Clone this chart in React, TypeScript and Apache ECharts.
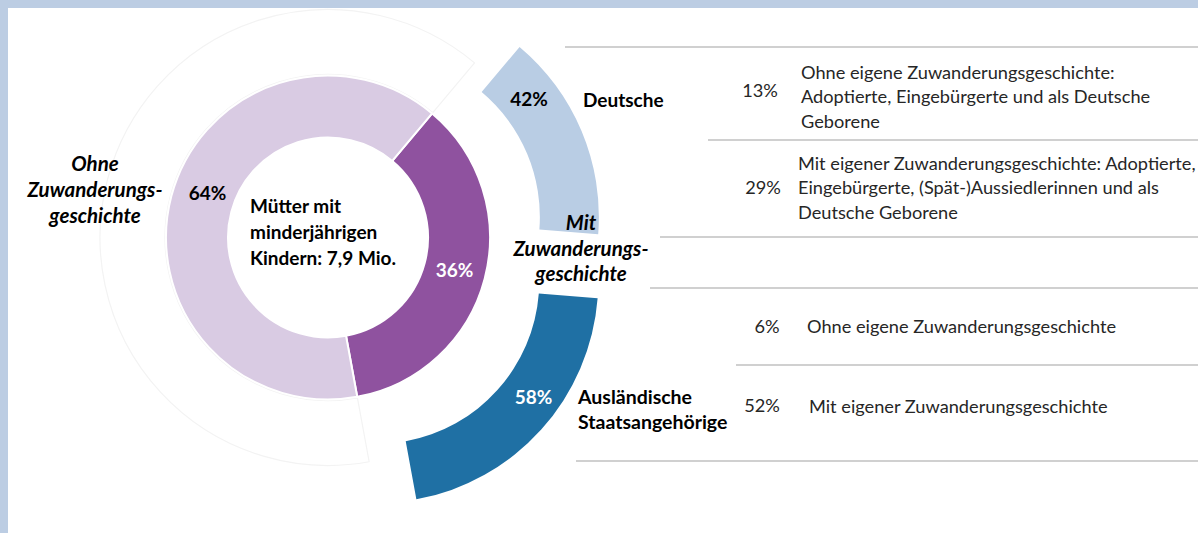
import React, { useEffect, useRef } from "react";
import * as echarts from "echarts";

// ---- data ----
const innerCategories = ["Mit Zuwanderungsgeschichte", "Ohne Zuwanderungsgeschichte"];
const innerValues = [36, 64]; // % of mothers with minor children
const outerCategories = ["Deutsche", "Ausländische Staatsangehörige"];
const outerValues = [42, 58]; // % within "Mit Zuwanderungsgeschichte"
const detailValues = [13, 29, 6, 52];
const detailLabels = [
  "Ohne eigene Zuwanderungsgeschichte:\nAdoptierte, Eingebürgerte und als Deutsche\nGeborene",
  "Mit eigener Zuwanderungsgeschichte: Adoptierte,\nEingebürgerte, (Spät-)Aussiedlerinnen und als\nDeutsche Geborene",
  "Ohne eigene Zuwanderungsgeschichte",
  "Mit eigener Zuwanderungsgeschichte",
];
const centerText = "Mütter mit\nminderjährigen\nKindern: 7,9 Mio.";
const leftGroupLabel = "Ohne\nZuwanderungs-\ngeschichte";
const rightGroupLabel = "Mit\nZuwanderungs-\ngeschichte";

// ---- style / layout ----
const FONT = "Lato, 'Noto Sans', sans-serif";
const C = [328, 237.5];
const START = 50;
const COL_DARK_PURPLE = "#8f529f";
const COL_LIGHT_PURPLE = "#d9cbe3";
const COL_LIGHT_BLUE = "#b9cde4";
const COL_DARK_BLUE = "#1f70a4";
const TRANSPARENT = "rgba(0,0,0,0)";
const LINE_COL = "#c0c0c0";
const TEXT_COL = "#262626";
const BOLD = 19;
const ITALIC = 20.5;
const TABLE = 18.2;

const detailPct = [
  { x: 760, y: 90 },
  { x: 763, y: 187 },
  { x: 767, y: 326 },
  { x: 762, y: 405 },
];
const detailText = [
  { x: 801, y: 96 },
  { x: 798, y: 187 },
  { x: 807, y: 326 },
  { x: 809, y: 406 },
];
const tableLines = [
  { x1: 565, y: 47 },
  { x1: 708, y: 140 },
  { x1: 660, y: 237 },
  { x1: 650, y: 288 },
  { x1: 736, y: 365 },
  { x1: 576, y: 461 },
];

export default function App() {
  const ref = useRef<HTMLDivElement>(null);
  useEffect(() => {
    if (!ref.current) return;
    const chart = echarts.init(ref.current, undefined, { renderer: "svg" });

    const mit = innerValues[0];
    const ohne = innerValues[1];
    const deutsch = (mit * outerValues[0]) / 100;
    const ausl = (mit * outerValues[1]) / 100;

    const baseLabel = {
      show: true,
      position: "inside",
      fontFamily: FONT,
      fontWeight: "bold",
      fontSize: BOLD,
    };
    const hidden = { show: false };

    const graphics: any[] = [
      { type: "rect", z: 100, shape: { x: 0, y: 0, width: 1198, height: 8 }, style: { fill: "#bccde3" }, silent: true },
      { type: "rect", z: 100, shape: { x: 0, y: 0, width: 8, height: 533 }, style: { fill: "#bccde3" }, silent: true },
      {
        type: "text", z: 100, x: 250, y: 231,
        style: { text: centerText, font: `bold ${BOLD}px ${FONT}`, fill: "#000", textAlign: "left", textVerticalAlign: "middle", lineHeight: 26 },
      },
      {
        type: "text", z: 100, x: 95, y: 189,
        style: { text: leftGroupLabel, font: `italic bold ${ITALIC}px ${FONT}`, fill: "#000", textAlign: "center", textVerticalAlign: "middle", lineHeight: 26 },
      },
      {
        type: "text", z: 100, x: 581, y: 247.5,
        style: { text: rightGroupLabel, font: `italic bold ${ITALIC}px ${FONT}`, fill: "#000", textAlign: "center", textVerticalAlign: "middle", lineHeight: 25.5 },
      },
      {
        type: "text", z: 100, x: 583, y: 99,
        style: { text: outerCategories[0], font: `bold ${BOLD}px ${FONT}`, fill: "#000", textAlign: "left", textVerticalAlign: "middle" },
      },
      {
        type: "text", z: 100, x: 578, y: 408.5,
        style: { text: "Ausländische\nStaatsangehörige", font: `bold 19.5px ${FONT}`, fill: "#000", textAlign: "left", textVerticalAlign: "middle", lineHeight: 25 },
      },
    ];
    tableLines.forEach((l) => {
      graphics.push({
        type: "line", z: 100,
        shape: { x1: l.x1, y1: l.y, x2: 1198, y2: l.y },
        style: { stroke: LINE_COL, lineWidth: 1.5 },
        silent: true,
      });
    });
    detailValues.forEach((v, i) => {
      graphics.push({
        type: "text", z: 100, x: detailPct[i].x, y: detailPct[i].y,
        style: { text: `${v}%`, font: `${TABLE}px ${FONT}`, fill: TEXT_COL, textAlign: "center", textVerticalAlign: "middle" },
      });
      graphics.push({
        type: "text", z: 100, x: detailText[i].x, y: detailText[i].y,
        style: { text: detailLabels[i], font: `${TABLE}px ${FONT}`, fill: TEXT_COL, textAlign: "left", textVerticalAlign: "middle", lineHeight: 24.5 },
      });
    });

    chart.setOption({
      animation: false,
      backgroundColor: "#ffffff",
      graphic: { elements: graphics },
      series: [
        // faint outline ring
        {
          type: "pie",
          center: C,
          radius: [163, 228],
          startAngle: START,
          avoidLabelOverlap: false,
          silent: true,
          z: 1,
          label: hidden,
          labelLine: { show: false },
          data: [
            { name: "Mit", value: mit, itemStyle: { color: TRANSPARENT, borderWidth: 0 } },
            { name: "Ohne", value: ohne, itemStyle: { color: "#ffffff", borderColor: "#f3f3f3", borderWidth: 1.2 } },
          ],
        },
        // inner ring
        {
          type: "pie",
          center: C,
          radius: [100, 162],
          startAngle: START,
          avoidLabelOverlap: false,
          itemStyle: { borderColor: "#ffffff", borderWidth: 2 },
          emphasis: { disabled: true },
          label: { ...baseLabel, formatter: "{c}%" },
          labelLine: { show: false },
          labelLayout: (p: any) => (p.dataIndex === 1 ? { dx: 9, dy: -11 } : { dx: -3, dy: -2 }),
          data: [
            { name: innerCategories[0], value: innerValues[0], itemStyle: { color: COL_DARK_PURPLE }, label: { color: "#ffffff" } },
            { name: innerCategories[1], value: innerValues[1], itemStyle: { color: COL_LIGHT_PURPLE }, label: { color: "#000000" } },
          ],
        },
        // Deutsche (exploded)
        {
          type: "pie",
          center: C,
          radius: [163, 222],
          startAngle: START,
          avoidLabelOverlap: false,
          selectedMode: "multiple",
          selectedOffset: 53,
          emphasis: { disabled: true },
          labelLine: { show: false },
          labelLayout: { dx: -28, dy: -43 },
          data: [
            { name: outerCategories[0], value: deutsch, selected: true, itemStyle: { color: COL_LIGHT_BLUE }, label: { ...baseLabel, color: "#000", formatter: `${outerValues[0]}%` } },
            { name: "x1", value: ausl, itemStyle: { color: TRANSPARENT }, label: hidden },
            { name: "x2", value: ohne, itemStyle: { color: TRANSPARENT }, label: hidden },
          ],
        },
        // Ausländische (exploded)
        {
          type: "pie",
          center: C,
          radius: [163, 222],
          startAngle: START,
          avoidLabelOverlap: false,
          selectedMode: "multiple",
          selectedOffset: 65,
          emphasis: { disabled: true },
          labelLine: { show: false },
          labelLayout: { dx: 12, dy: -15 },
          data: [
            { name: "y1", value: deutsch, itemStyle: { color: TRANSPARENT }, label: hidden },
            { name: outerCategories[1], value: ausl, selected: true, itemStyle: { color: COL_DARK_BLUE }, label: { ...baseLabel, color: "#fff", formatter: `${outerValues[1]}%` } },
            { name: "y2", value: ohne, itemStyle: { color: TRANSPARENT }, label: hidden },
          ],
        },
      ],
    });
    return () => chart.dispose();
  }, []);
  return (
    <div
      ref={ref}
      style={{ position: "fixed", left: 0, top: 0, width: 1198, height: 533, background: "#fff" }}
    />
  );
}
